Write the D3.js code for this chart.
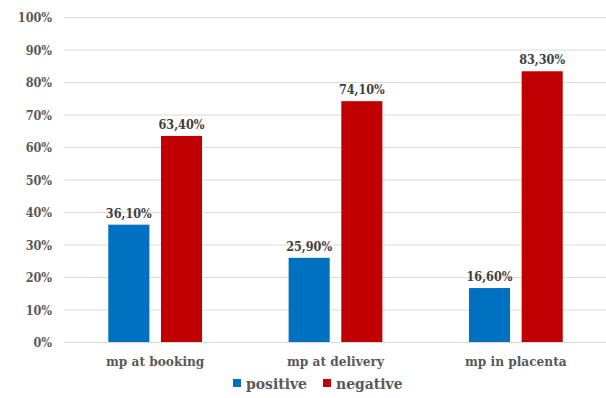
<!DOCTYPE html>
<html>
<head>
<meta charset="utf-8">
<script src="https://cdn.jsdelivr.net/npm/d3@7"></script>
<style>
  body { margin: 0; background: #fff; }
  svg text { font-family: "DejaVu Serif"; font-weight: 700; font-stretch: condensed; }
</style>
</head>
<body>
<svg width="606" height="398"></svg>
<script>
const categories = ["mp at booking", "mp at delivery", "mp in placenta"],
      series     = ["positive", "negative"],
      positive   = [36.1, 25.9, 16.6],
      negative   = [63.4, 74.1, 83.3],
      ticks      = [0, 10, 20, 30, 40, 50, 60, 70, 80, 90, 100]

const svg     = d3.select("svg"),
      plotL   = 65,
      plotR   = 606,
      plotT   = 17,
      plotB   = 342

const color = d3.scaleOrdinal().domain(series).range(["#0070c0", "#c00000"])

const x = d3.scaleBand()
        .domain(categories)
        .range([plotL, plotR])
        .paddingInner(0.48)
        .paddingOuter(0.24)

const xs = d3.scaleBand()
        .domain(series)
        .range([0, x.bandwidth()])
        .paddingInner(0.22)

const y = d3.scaleLinear()
        .domain([0, 100])
        .range([plotB, plotT])

const fmt = (v) => d3.format(".2f")(v).replace(".", ",") + "%"

// gridlines
svg.selectAll(".grid")
      .data(ticks)
    .enter().append("line")
      .attr("x1", plotL - 1)
      .attr("x2", plotR)
      .attr("y1", (d) => y(d) + 0.5)
      .attr("y2", (d) => y(d) + 0.5)
      .style("stroke", "#d9d9d9")
      .style("stroke-width", 1)

// y tick labels
svg.selectAll(".ytick")
      .data(ticks)
    .enter().append("text")
      .attr("x", 52)
      .attr("y", (d) => y(d) + 5)
      .attr("text-anchor", "end")
      .style("font-size", "12.5px")
      .style("fill", "#595959")
      .text((d) => d + "%")

const rows = []
categories.forEach(function(c, i) {
  rows.push({cat: c, s: "positive", v: positive[i]})
  rows.push({cat: c, s: "negative", v: negative[i]})
})

svg.selectAll(".bar")
      .data(rows)
    .enter().append("rect")
      .attr("x", (d) => x(d.cat) + xs(d.s))
      .attr("y", (d) => y(d.v))
      .attr("width", xs.bandwidth())
      .attr("height", (d) => y(0) - y(d.v))
      .style("fill", (d) => color(d.s))

svg.selectAll(".vlabel")
      .data(rows)
    .enter().append("text")
      .attr("x", (d) => x(d.cat) + xs(d.s) + xs.bandwidth() / 2)
      .attr("y", (d) => y(d.v) - 7)
      .attr("text-anchor", "middle")
      .style("font-size", "12.5px")
      .style("fill", "#404040")
      .text((d) => fmt(d.v))

// category labels
svg.selectAll(".xlabel")
      .data(categories)
    .enter().append("text")
      .attr("x", (d) => x(d) + x.bandwidth() / 2)
      .attr("y", 366)
      .attr("text-anchor", "middle")
      .style("font-size", "13.5px")
      .style("fill", "#595959")
      .text((d) => d)

// legend
const legendX = [233, 323]
const lg = svg.selectAll(".legend")
      .data(series)
    .enter().append("g")
      .attr("transform", (d, i) => "translate(" + legendX[i] + ",379)")
lg.append("rect")
      .attr("width", 8)
      .attr("height", 8)
      .style("fill", (d) => color(d))
lg.append("text")
      .attr("x", 13)
      .attr("y", 9.5)
      .style("font-size", "15.5px")
      .style("fill", "#595959")
      .text((d) => d)
</script>
</body>
</html>
